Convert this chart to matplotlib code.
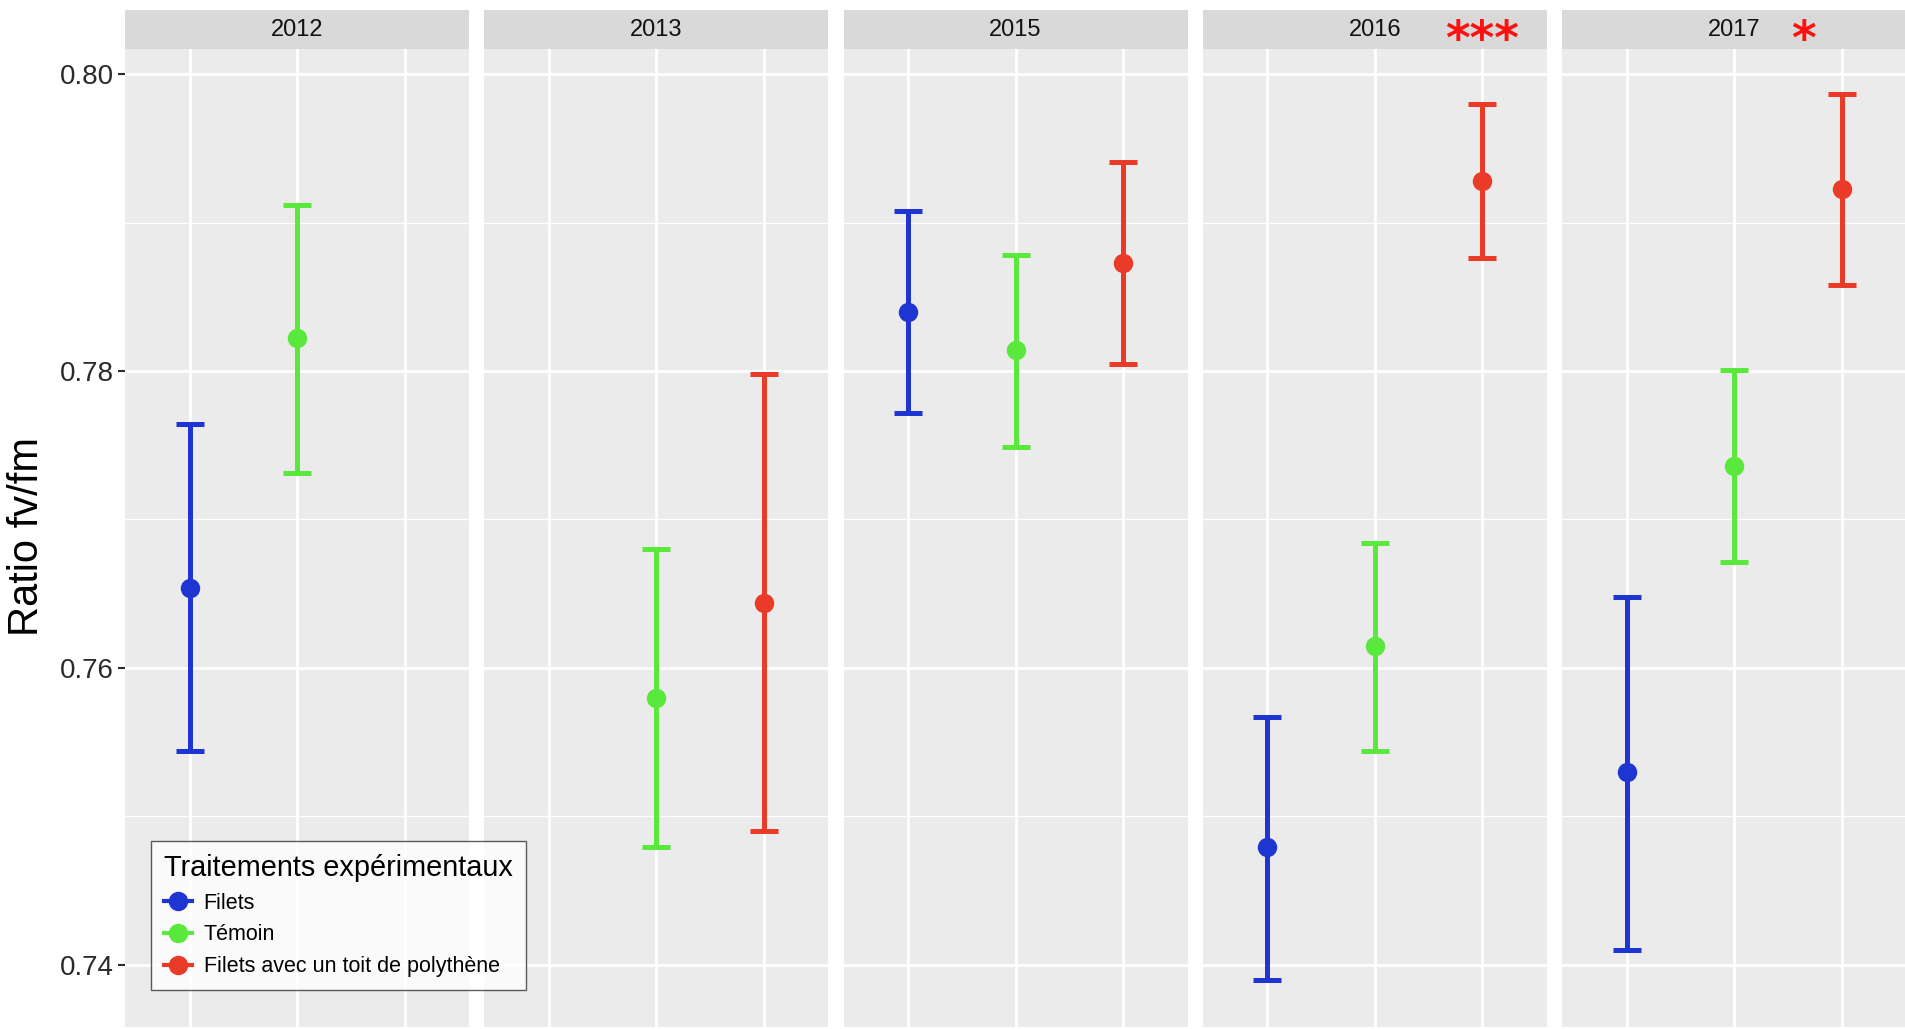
import numpy as np
import matplotlib
matplotlib.use("Agg")
import matplotlib.pyplot as plt
from matplotlib.lines import Line2D
from matplotlib.patches import Rectangle
import matplotlib.transforms as mtransforms

plt.rcParams['font.family'] = ['Liberation Sans', 'DejaVu Sans']

# data (nan = treatment absent that year)
years = ['2012', '2013', '2015', '2016', '2017']
treatments = ['Filets', 'Témoin', 'Filets avec un toit de polythène']
colors = ['#1E35D2', '#5AE83C', '#EA3A28']
nan = np.nan

filets_mean = [0.7654, nan, 0.7840, 0.7479, 0.7530]
filets_low = [0.7544, nan, 0.7772, 0.7390, 0.7410]
filets_high = [0.7764, nan, 0.7908, 0.7567, 0.7648]

temoin_mean = [0.7822, 0.7580, 0.7814, 0.7615, 0.7736]
temoin_low = [0.7731, 0.7479, 0.7749, 0.7544, 0.7671]
temoin_high = [0.7912, 0.7680, 0.7878, 0.7684, 0.7801]

toit_mean = [nan, 0.7644, 0.7873, 0.7928, 0.7923]
toit_low = [nan, 0.7490, 0.7805, 0.7876, 0.7858]
toit_high = [nan, 0.7798, 0.7941, 0.7980, 0.7987]

means = [filets_mean, temoin_mean, toit_mean]
lows = [filets_low, temoin_low, toit_low]
highs = [filets_high, temoin_high, toit_high]

# significance marks in the strips: (year index, x position, label)
signif = [(3, 3.0, '***'), (4, 2.64, '*')]

yticks = [0.74, 0.76, 0.78, 0.80]
yminor = [0.75, 0.77, 0.79]

W, H = 1905, 1029
fig = plt.figure(figsize=(W / 100, H / 100), dpi=100)

left0 = 125 / W
pw = 344 / W
step = 359.3 / W
bottom = 2 / H
ph = 978 / H
strip_h = 39 / 978

axes = []
for i, yr in enumerate(years):
    ax = fig.add_axes([left0 + i * step, bottom, pw, ph])
    ax.set_facecolor('#EBEBEB')
    ax.set_xlim(0.4, 3.6)
    ax.set_ylim(0.7358, 0.8017)
    for s in ax.spines.values():
        s.set_visible(False)
    for y in yminor:
        ax.axhline(y, color='white', lw=1.0, zorder=0)
    for y in yticks:
        ax.axhline(y, color='white', lw=2.0, zorder=0)
    for x in [1, 2, 3]:
        ax.axvline(x, color='white', lw=2.0, zorder=0)

    for k in range(3):
        m = means[k][i]
        if np.isnan(m):
            continue
        ax.errorbar([k + 1], [m],
                    yerr=[[m - lows[k][i]], [highs[k][i] - m]],
                    fmt='o', color=colors[k], ms=13, elinewidth=3.6,
                    capsize=10, capthick=3.6, zorder=3)

    ax.set_xticks([])
    if i == 0:
        ax.set_yticks(yticks)
        ax.set_yticklabels(['%.2f' % t for t in yticks])
        ax.tick_params(axis='y', labelsize=20, colors='#2A2A2A',
                       length=5, width=1.5, pad=3)
    else:
        ax.set_yticks([])

    # facet strip
    strip = Rectangle((0, 1), 1, strip_h, transform=ax.transAxes,
                      facecolor='#D9D9D9', edgecolor='none', clip_on=False)
    ax.add_patch(strip)
    ax.text(0.5, 1 + strip_h / 2, yr, transform=ax.transAxes, ha='center',
            va='center', fontsize=17, color='#111111')
    axes.append(ax)

for i, x, lab in signif:
    trans = mtransforms.blended_transform_factory(axes[i].transData, axes[i].transAxes)
    axes[i].text(x, 1 + strip_h / 2 - 0.012, lab, transform=trans, ha='center',
                 va='center', fontsize=34, fontweight='bold', color='#FF1010',
                 family='DejaVu Sans')

fig.text(27 / W, 1 - 537 / H, 'Ratio fv/fm', rotation=90, ha='center',
         va='center', fontsize=30, color='black')

handles = [Line2D([0], [0], color=c, marker='o', ms=13, lw=3) for c in colors]
leg = fig.legend(handles, treatments, title='Traitements expérimentaux',
                 loc='lower left', bbox_to_anchor=(151 / W, 1 - 990 / H),
                 borderaxespad=0, fontsize=15.5, title_fontsize=20.8,
                 frameon=True, fancybox=False, handlelength=1.3,
                 handletextpad=0.55, labelspacing=0.5, borderpad=0.6)
leg._legend_box.align = 'left'
leg.get_frame().set_edgecolor('#333333')
leg.get_frame().set_linewidth(1.0)
leg.set_zorder(10)

fig.savefig('out.png', dpi=100)
